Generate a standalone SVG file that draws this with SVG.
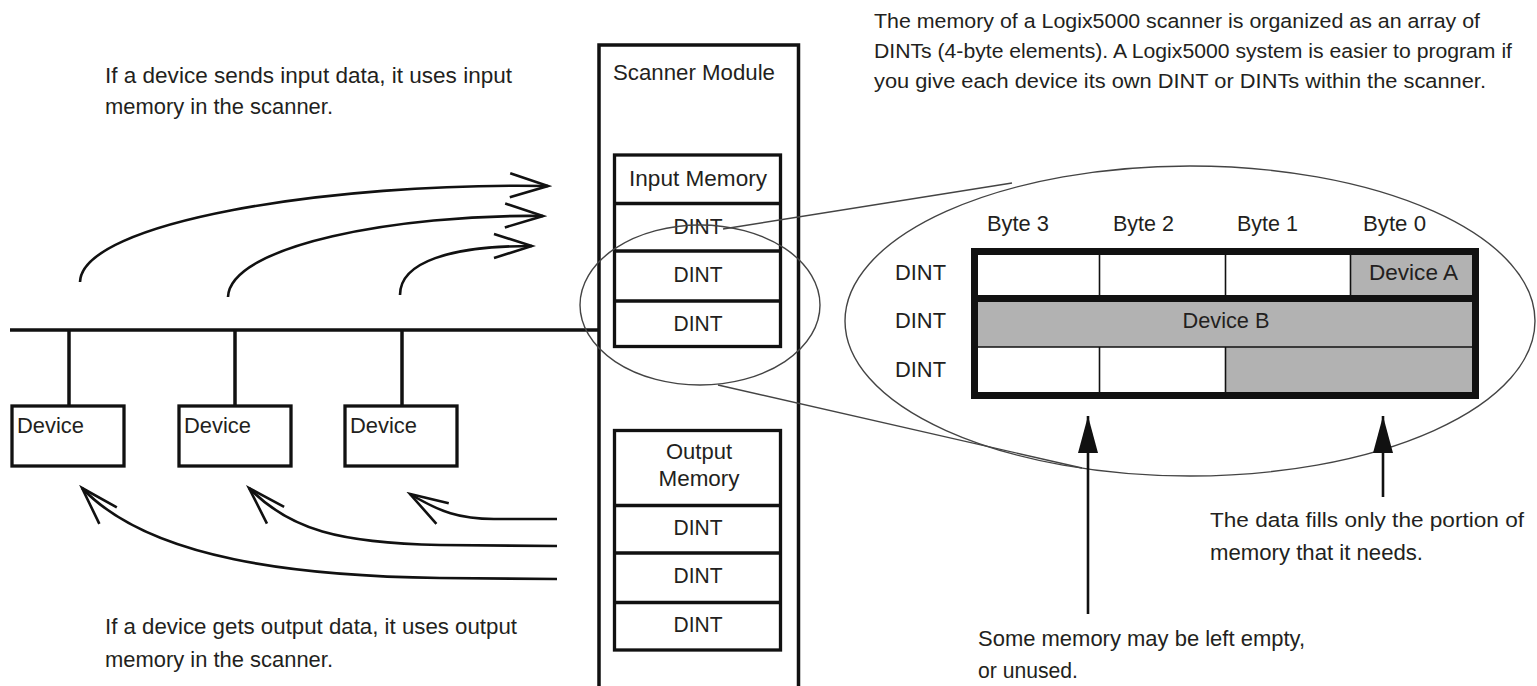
<svg xmlns="http://www.w3.org/2000/svg" width="1537" height="686" viewBox="0 0 1537 686">
  <style>
    .t { font-family: "Liberation Sans Narrow", "Liberation Sans", Arial, sans-serif; font-size: 22.5px; fill: #231f20; }
    .s { font-size: 20.5px; }
    .c { text-anchor: middle; }
    .box { fill: #fff; stroke: #111; stroke-width: 3.3; }
    .wire { fill: none; stroke: #111; stroke-width: 3.5; }
    .flow { fill: none; stroke: #111; stroke-width: 2.6; marker-end: url(#open); }
    .lens { fill: none; stroke: #444; stroke-width: 1.4; }
    .thin { stroke: #111; stroke-width: 1.6; }
    .fill { fill: #b2b2b2; }
  </style>
  <defs>
    <marker id="open" markerUnits="userSpaceOnUse" viewBox="-42 -16 46 32" markerWidth="46" markerHeight="32" refX="0" refY="0" orient="auto">
      <path d="M-38,-12 L0,0 L-38,12" fill="none" stroke="#111" stroke-width="2.6"/>
    </marker>
    <marker id="solid" markerUnits="userSpaceOnUse" viewBox="-38 -12 40 24" markerWidth="40" markerHeight="24" refX="0" refY="0" orient="auto">
      <path d="M0,0 L-37,-10 L-37,10 Z" fill="#111"/>
    </marker>
  </defs>

  <!-- captions -->
  <g id="caption-input">
    <text class="t" x="105" y="83" textLength="407" lengthAdjust="spacingAndGlyphs">If a device sends input data, it uses input</text>
    <text class="t" x="105" y="114" textLength="228" lengthAdjust="spacingAndGlyphs">memory in the scanner.</text>
  </g>
  <g id="caption-output">
    <text class="t" x="105" y="634" textLength="412" lengthAdjust="spacingAndGlyphs">If a device gets output data, it uses output</text>
    <text class="t" x="105" y="667" textLength="228" lengthAdjust="spacingAndGlyphs">memory in the scanner.</text>
  </g>
  <g id="caption-array">
    <text class="t s" x="874" y="28" textLength="606" lengthAdjust="spacingAndGlyphs">The memory of a Logix5000 scanner is organized as an array of</text>
    <text class="t s" x="874" y="58" textLength="638" lengthAdjust="spacingAndGlyphs">DINTs (4-byte elements). A Logix5000 system is easier to program if</text>
    <text class="t s" x="874" y="88" textLength="612" lengthAdjust="spacingAndGlyphs">you give each device its own DINT or DINTs within the scanner.</text>
  </g>
  <g id="caption-fill">
    <text class="t s" x="1210" y="527" textLength="314" lengthAdjust="spacingAndGlyphs">The data fills only the portion of</text>
    <text class="t" x="1210" y="560" textLength="213" lengthAdjust="spacingAndGlyphs">memory that it needs.</text>
  </g>
  <g id="caption-empty">
    <text class="t" x="978" y="646" textLength="327" lengthAdjust="spacingAndGlyphs">Some memory may be left empty,</text>
    <text class="t" x="978" y="678" textLength="100" lengthAdjust="spacingAndGlyphs">or unused.</text>
  </g>

  <!-- network bus and drops -->
  <g id="bus">
    <line class="wire" x1="10" y1="330" x2="599" y2="330"/>
    <line class="wire" x1="69" y1="330" x2="69" y2="406"/>
    <line class="wire" x1="235" y1="330" x2="235" y2="406"/>
    <line class="wire" x1="402" y1="330" x2="402" y2="406"/>
  </g>

  <!-- devices -->
  <g id="device-1">
    <rect class="box" x="12" y="406" width="112" height="60"/>
    <text class="t" x="17" y="433" textLength="67" lengthAdjust="spacingAndGlyphs">Device</text>
  </g>
  <g id="device-2">
    <rect class="box" x="179" y="406" width="112" height="60"/>
    <text class="t" x="184" y="433" textLength="67" lengthAdjust="spacingAndGlyphs">Device</text>
  </g>
  <g id="device-3">
    <rect class="box" x="345" y="406" width="112" height="60"/>
    <text class="t" x="350" y="433" textLength="67" lengthAdjust="spacingAndGlyphs">Device</text>
  </g>

  <!-- scanner module (open at the bottom) -->
  <g id="scanner">
    <path class="wire" d="M599,686 V45 H798.5 V686"/>
    <text class="t" x="613" y="80" textLength="162" lengthAdjust="spacingAndGlyphs">Scanner Module</text>
  </g>

  <g id="input-memory">
    <rect class="box" x="614.5" y="155" width="166" height="191.5"/>
    <line class="wire" x1="614.5" y1="203.5" x2="780.5" y2="203.5" stroke-width="3.3"/>
    <line class="wire" x1="614.5" y1="251" x2="780.5" y2="251" stroke-width="3.3"/>
    <line class="wire" x1="614.5" y1="301" x2="780.5" y2="301" stroke-width="3.3"/>
    <text class="t c" x="698" y="186" textLength="138" lengthAdjust="spacingAndGlyphs">Input Memory</text>
    <text class="t c" x="698" y="234" textLength="49" lengthAdjust="spacingAndGlyphs">DINT</text>
    <text class="t c" x="698" y="282" textLength="49" lengthAdjust="spacingAndGlyphs">DINT</text>
    <text class="t c" x="698" y="331" textLength="49" lengthAdjust="spacingAndGlyphs">DINT</text>
  </g>

  <g id="output-memory">
    <rect class="box" x="614.5" y="430.5" width="166" height="219.5"/>
    <line class="wire" x1="614.5" y1="505.5" x2="780.5" y2="505.5" stroke-width="3.3"/>
    <line class="wire" x1="614.5" y1="553" x2="780.5" y2="553" stroke-width="3.3"/>
    <line class="wire" x1="614.5" y1="602.5" x2="780.5" y2="602.5" stroke-width="3.3"/>
    <text class="t c" x="699" y="459" textLength="66" lengthAdjust="spacingAndGlyphs">Output</text>
    <text class="t c" x="699" y="486" textLength="81" lengthAdjust="spacingAndGlyphs">Memory</text>
    <text class="t c" x="698" y="535" textLength="49" lengthAdjust="spacingAndGlyphs">DINT</text>
    <text class="t c" x="698" y="583" textLength="49" lengthAdjust="spacingAndGlyphs">DINT</text>
    <text class="t c" x="698" y="632" textLength="49" lengthAdjust="spacingAndGlyphs">DINT</text>
  </g>

  <!-- magnifier: small ellipse, guide lines and enlarged view -->
  <g id="magnifier">
    <ellipse class="lens" cx="700" cy="305" rx="120" ry="80"/>
    <line class="lens" x1="723" y1="229" x2="1012" y2="183"/>
    <line class="lens" x1="718" y1="385" x2="1082" y2="468"/>
    <ellipse class="lens" cx="1190" cy="321" rx="345" ry="155"/>
  </g>

  <!-- DINT byte layout -->
  <g id="dint-table">
    <text class="t" x="987" y="231" textLength="62" lengthAdjust="spacingAndGlyphs">Byte 3</text>
    <text class="t" x="1113" y="231" textLength="61" lengthAdjust="spacingAndGlyphs">Byte 2</text>
    <text class="t" x="1237" y="231" textLength="61" lengthAdjust="spacingAndGlyphs">Byte 1</text>
    <text class="t" x="1363" y="231" textLength="63" lengthAdjust="spacingAndGlyphs">Byte 0</text>
    <text class="t" x="895" y="280" textLength="51" lengthAdjust="spacingAndGlyphs">DINT</text>
    <text class="t" x="895" y="328" textLength="51" lengthAdjust="spacingAndGlyphs">DINT</text>
    <text class="t" x="895" y="377" textLength="51" lengthAdjust="spacingAndGlyphs">DINT</text>

    <rect x="978" y="255" width="494" height="137" fill="#fff"/>
    <rect class="fill" x="1351" y="255" width="121" height="40"/>
    <rect class="fill" x="978" y="302" width="494" height="45"/>
    <rect class="fill" x="1226" y="347" width="246" height="45"/>
    <line class="thin" x1="1099.5" y1="255" x2="1099.5" y2="295"/>
    <line class="thin" x1="1225.5" y1="255" x2="1225.5" y2="295"/>
    <line class="thin" x1="1350.5" y1="255" x2="1350.5" y2="295"/>
    <line class="thin" x1="1099.5" y1="347" x2="1099.5" y2="392"/>
    <line class="thin" x1="1225.5" y1="347" x2="1225.5" y2="392"/>
    <line class="thin" x1="978" y1="347" x2="1472" y2="347"/>
    <rect x="978" y="295" width="494" height="7" fill="#111"/>
    <rect x="974.5" y="251.5" width="501" height="144" fill="none" stroke="#111" stroke-width="7"/>

    <text class="t" x="1369" y="280" textLength="89" lengthAdjust="spacingAndGlyphs">Device A</text>
    <text class="t c" x="1226" y="328" textLength="87" lengthAdjust="spacingAndGlyphs">Device B</text>
  </g>

  <!-- data flow arrows -->
  <g id="connectors">
    <path class="flow" d="M80,282 C82,222 330,182 548,186"/>
    <path class="flow" d="M228,297 C230,245 400,214 543,216"/>
    <path class="flow" d="M400,295 C400,262 450,246 532,246"/>
    <path class="flow" d="M557,579 L440,578 C300,576 150,560 82,488"/>
    <path class="flow" d="M557,546 L440,545 C340,543 290,530 249,488"/>
    <path class="flow" d="M557,519 L494,519 C460,519 440,512 410,494"/>
    <line x1="1088" y1="614" x2="1088" y2="416" stroke="#111" stroke-width="2.6" marker-end="url(#solid)"/>
    <line x1="1383" y1="497" x2="1383" y2="416" stroke="#111" stroke-width="2.6" marker-end="url(#solid)"/>
  </g>
</svg>
